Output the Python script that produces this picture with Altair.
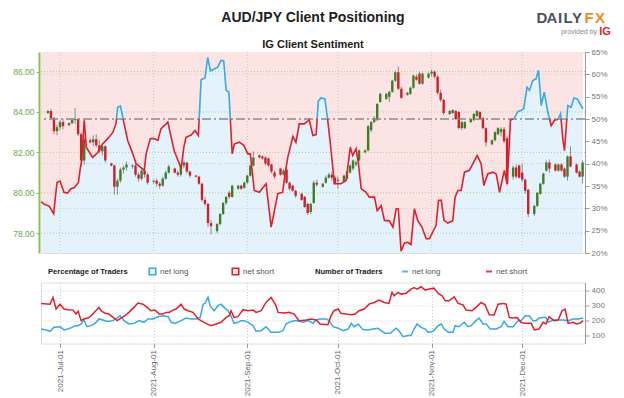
import altair as alt
import pandas as pd

# ---------------- data ----------------
# time positions are day offsets after 2021-07-01 00:00
sent_day = [-6.3,-5.2,-3.6,-2.1,-1.0,0.0,1.3,2.5,3.6,4.7,
            6.1,6.7,7.2,8.0,8.7,9.4,10.8,12.5,14.1,15.8,
            17.5,18.5,19.1,20.0,21.1,22.4,24.1,25.2,26.6,27.9,
            28.5,29.9,31.2,32.4,33.4,34.5,35.7,36.8,37.8,39.5,
            40.1,41.0,41.7,43.4,44.7,45.8,46.7,48.0,48.9,49.8,
            51.1,52.2,53.3,54.2,55.0,55.9,57.0,57.7,59.4,60.8,
            62.2,63.0,64.3,66.0,68.2,69.9,72.1,73.7,74.5,75.4,
            77.1,78.1,79.2,80.9,82.5,83.7,84.8,85.5,86.4,87.7,
            88.6,89.5,90.4,90.8,93.0,94.7,96.1,96.9,98.0,98.8,
            99.7,101.3,102.4,104.1,105.0,106.3,107.4,109.0,110.2,111.3,
            112.0,112.9,114.0,115.1,116.2,117.3,118.4,119.8,121.2,122.3,
            123.4,124.5,125.3,126.2,127.1,128.4,130.0,130.8,131.7,132.8,
            133.9,135.5,136.7,138.1,139.4,140.3,141.6,143.3,144.4,145.5,
            147.1,148.0,148.8,149.1,150.4,151.6,152.6,153.5,154.6,155.4,
            156.5,157.6,158.4,159.3,160.3,161.5,162.6,163.7,164.8,165.7,
            166.5,167.0,168.1,169.2,170.1,171.2,173.1]
sent_pct = [31.5,30.9,30.5,28.8,35.8,36.1,33.6,33.4,34.4,34.6,
            35.8,38.9,40.7,49.7,43.7,42.9,41.4,42.5,44.4,45.6,
            47.0,48.9,52.6,52.9,49.3,45.2,42.2,40.0,39.2,38.5,
            42.2,45.6,45.6,45.2,47.8,48.5,49.3,45.9,42.9,40.0,
            38.9,43.7,45.9,46.4,47.4,46.3,58.8,59.2,63.8,60.8,
            61.2,61.6,63.1,63.0,56.4,56.0,42.2,44.4,44.8,44.1,
            42.2,42.2,34.0,33.6,35.5,25.8,33.3,33.6,37.7,41.4,
            46.1,44.8,48.9,48.9,49.8,46.3,46.5,54.0,54.7,54.5,
            49.9,44.4,38.5,35.5,35.5,36.2,43.7,41.8,43.3,40.0,
            34.4,33.6,32.5,32.5,29.5,30.6,27.3,27.2,25.8,29.9,
            29.9,20.4,22.2,22.4,21.9,29.9,27.3,25.8,23.2,23.2,
            24.7,26.2,31.8,31.8,27.3,26.7,27.2,32.5,34.0,34.0,
            38.1,38.5,40.0,41.8,40.0,35.1,37.7,38.1,37.7,33.6,
            38.5,35.5,45.2,49.7,50.2,51.7,51.9,52.3,57.1,56.4,
            58.6,59.0,60.9,53.0,56.0,51.5,48.5,49.7,49.9,51.2,
            45.2,42.9,53.0,52.6,54.7,54.5,52.3]

long_day = [-6.3,-4.6,-3.3,-2.0,0.0,1.3,2.6,4.0,5.0,6.0,
            7.0,7.9,8.9,10.3,11.6,12.9,14.2,15.9,17.5,19.2,
            19.9,21.2,22.8,24.5,26.2,27.8,29.1,30.8,32.5,34.1,
            35.8,36.8,38.1,40.1,41.7,43.4,45.0,46.4,47.4,48.0,
            49.0,49.7,51.0,52.3,53.3,54.3,55.6,56.6,57.6,58.9,
            59.9,60.9,62.3,63.9,64.9,66.6,68.2,69.9,72.2,73.8,
            74.8,76.5,78.1,80.5,82.1,83.8,84.8,85.8,88.1,89.1,
            90.4,92.1,93.7,95.4,96.4,97.4,98.7,100.3,102.0,103.6,
            105.3,106.3,107.6,109.3,111.3,112.3,113.6,115.2,116.2,117.2,
            118.2,119.5,120.9,121.9,123.5,125.2,126.2,127.2,128.5,130.1,
            130.8,132.1,133.8,135.1,136.1,137.7,138.7,140.1,141.1,142.4,
            144.4,146.0,147.0,148.3,150.0,151.7,152.6,154.0,155.3,156.6,
            157.6,158.6,159.9,160.9,161.6,163.2,164.9,166.6,168.2,169.9,
            171.5,173.2]
long_n = [145,139,130,156,160,139,145,156,167,167,
          178,204,160,167,182,211,204,195,200,221,
          232,200,178,182,200,189,211,211,226,232,
          226,189,182,200,217,211,211,221,308,313,
          352,298,265,298,308,287,265,232,182,189,
          200,200,189,167,130,134,160,123,123,134,
          178,195,200,189,200,182,204,211,211,200,
          160,150,134,145,182,160,178,141,139,145,
          150,134,117,117,150,130,95,102,102,145,
          178,156,145,123,130,167,178,145,123,123,
          167,160,189,160,167,200,217,178,178,145,
          145,160,195,160,160,200,200,232,232,200,
          200,217,221,221,189,204,204,204,200,211,
          211,217]

short_day = [-6.3,-3.3,-2.3,-1.3,0.0,1.3,2.6,4.3,5.3,6.0,
             7.0,7.9,9.3,10.3,11.3,12.9,13.6,14.9,16.2,17.9,
             18.9,20.2,21.5,22.8,24.5,25.8,27.5,29.1,30.1,31.5,
             32.8,34.1,35.1,36.1,37.4,38.4,40.1,41.1,42.4,44.0,
             45.7,46.7,48.3,50.0,51.7,53.3,55.0,56.0,56.6,57.6,
             58.9,60.6,62.3,63.9,64.9,66.6,68.2,69.9,71.5,72.2,
             74.2,75.8,77.5,79.1,81.5,83.1,84.8,86.1,88.7,89.7,
             90.7,92.1,93.0,94.7,96.4,97.7,99.0,100.7,102.3,104.0,
             105.6,107.3,108.9,109.9,110.6,111.9,112.9,114.6,116.2,117.2,
             118.2,119.5,120.9,122.2,123.8,125.2,126.5,127.5,128.8,130.5,
             131.8,133.4,134.4,136.4,137.7,139.4,140.7,142.1,143.7,145.0,
             146.7,147.7,148.7,149.7,151.3,152.6,153.6,156.0,157.0,158.6,
             159.9,160.9,161.9,163.6,164.9,166.2,167.2,168.2,169.9,170.9,
             172.2,173.2]
short_n = [313,308,352,276,308,276,272,269,243,261,
           200,211,217,232,254,287,265,248,243,217,
           200,217,232,254,287,315,308,282,265,269,
           243,243,254,254,269,276,308,276,265,254,
           211,200,182,167,178,189,221,232,265,221,
           226,272,265,269,254,265,319,352,298,254,
           250,254,243,200,204,211,204,178,173,232,
           265,276,248,243,239,243,265,276,308,319,
           335,319,313,385,363,385,374,380,407,417,
           407,422,400,407,413,378,363,330,330,356,
           313,304,269,265,287,319,304,239,237,308,
           313,308,221,217,221,189,182,182,139,145,
           189,178,226,200,204,265,276,182,189,178,
           184,200]

# daily AUD/JPY candles, Sunday..Friday, 2021-06-27 .. 2021-12-21 (one row per week)
candle_open = [
    83.95,84.05,83.7,83.05,83.25,83.5,
    83.35,83.45,83.6,83.65,82.9,81.6,
    82.6,82.5,82.65,82.35,82.05,82.3,
    81.45,81.35,80.3,80.6,81.15,81.25,
    81.3,81.35,80.9,80.7,81.1,80.9,
    80.55,80.6,80.45,80.35,80.7,81.0,
    81.2,81.0,80.9,81.35,81.5,81.05,
    80.85,80.8,80.45,79.65,79.45,78.5,
    78.1,78.45,78.95,79.5,80.0,79.8,
    80.2,80.35,80.25,80.5,80.85,81.35,
    81.85,81.8,81.75,81.7,81.4,81.0,
    81.2,80.9,81.15,80.5,80.35,80.1,
    79.95,79.8,79.45,79.05,79.5,80.5,
    80.3,80.5,80.75,80.9,80.75,80.65,
    80.55,80.7,81.0,81.2,81.4,81.6,
    82.0,82.1,83.1,83.5,83.6,84.5,
    84.65,84.75,85.0,85.55,85.97,85.15,
    84.85,84.9,85.2,85.75,85.9,85.4,
    85.7,85.9,86.0,85.75,84.95,84.6,
    83.9,83.95,84.05,84.0,83.2,83.2,
    83.5,83.6,83.8,84.0,83.7,83.2,
    82.4,82.6,82.9,83.0,83.15,82.7,
    80.8,81.25,81.35,81.0,80.65,80.15,
    78.95,79.35,79.95,80.45,81.1,81.5,
    81.4,81.1,81.4,81.2,80.8,81.8,
    81.4,81.05,80.8]
candle_high = [
    84.1,84.15,83.75,83.35,83.6,83.65,
    83.5,83.7,84.2,83.7,83.0,82.8,
    82.7,82.85,82.9,82.6,82.45,82.35,
    81.5,81.4,80.7,81.25,81.35,81.55,
    81.4,81.45,81.0,81.2,81.2,81.0,
    80.65,80.7,80.55,80.8,81.1,81.4,
    81.25,81.1,81.4,81.6,81.5,81.1,
    80.9,80.85,80.5,79.8,79.5,78.65,
    78.5,79.0,79.55,79.85,80.1,80.4,
    80.4,80.4,80.55,80.9,81.4,82.05,
    81.9,81.85,81.8,81.75,81.45,81.1,
    81.25,81.2,81.3,80.55,80.4,80.15,
    80.0,79.85,79.5,79.5,80.6,80.65,
    80.5,80.85,81.0,81.05,80.85,80.8,
    80.9,81.1,81.4,81.65,81.6,82.15,
    82.15,83.35,83.55,83.8,84.45,84.95,
    84.95,85.05,85.6,86.05,86.25,85.25,
    85.0,85.25,85.85,85.85,86.0,85.95,
    85.95,86.1,86.05,85.8,85.1,84.65,
    84.1,84.15,84.1,84.05,83.55,83.55,
    83.7,83.95,84.1,84.05,83.75,83.25,
    82.65,83.05,83.25,83.25,83.25,82.8,
    81.35,81.4,81.4,81.45,80.7,80.2,
    79.4,80.05,80.5,81.0,81.6,81.65,
    81.45,81.45,81.45,81.25,81.85,82.3,
    81.45,81.1,81.6]
candle_low = [
    83.9,83.6,82.9,82.85,83.1,83.15,
    83.3,83.4,83.4,82.8,81.3,81.4,
    82.45,82.3,82.25,81.95,81.85,81.5,
    81.3,79.9,79.9,80.5,80.95,81.1,
    81.2,80.8,80.55,80.6,80.75,80.4,
    80.45,80.3,80.2,80.3,80.65,80.95,
    80.95,80.8,80.8,81.2,80.95,80.75,
    80.75,80.4,79.55,79.35,78.3,77.95,
    78.0,78.4,78.9,79.4,79.7,79.75,
    80.15,80.15,80.2,80.45,80.8,81.3,
    81.7,81.65,81.35,81.3,80.95,80.7,
    80.85,80.85,80.45,80.1,80.05,79.75,
    79.6,79.25,78.9,78.95,79.45,80.3,
    80.25,80.45,80.7,80.6,80.4,80.2,
    80.5,80.65,80.95,81.1,81.3,81.55,
    81.95,82.05,83.0,83.45,83.55,84.45,
    84.6,84.5,84.95,85.5,85.1,84.65,
    84.8,84.85,85.15,85.55,85.35,85.35,
    85.65,85.75,85.65,84.85,84.5,83.85,
    83.85,83.9,83.6,83.15,83.1,83.15,
    83.45,83.55,83.75,83.6,83.15,82.3,
    82.35,82.55,82.85,82.8,82.45,80.35,
    80.65,80.7,80.7,80.55,79.95,78.8,
    78.85,79.3,79.9,80.4,81.05,81.0,
    81.05,81.05,81.05,80.75,80.6,81.25,
    80.95,80.75,80.45]
candle_close = [
    84.05,83.7,83.05,83.25,83.5,83.3,
    83.45,83.6,83.65,82.9,81.6,82.65,
    82.5,82.65,82.35,82.05,82.3,81.6,
    81.35,80.3,80.6,81.15,81.25,81.4,
    81.35,80.9,80.7,81.1,80.9,80.5,
    80.6,80.45,80.35,80.7,81.0,81.3,
    81.0,80.9,81.35,81.5,81.05,80.85,
    80.8,80.45,79.65,79.45,78.5,78.35,
    78.45,78.95,79.5,79.8,79.8,80.35,
    80.35,80.2,80.5,80.85,81.35,81.75,
    81.75,81.7,81.45,81.35,81.05,80.8,
    80.9,81.1,80.5,80.2,80.1,79.85,
    79.65,79.3,79.0,79.45,80.5,80.4,
    80.45,80.75,80.9,80.75,80.45,80.6,
    80.85,81.05,81.35,81.6,81.5,82.1,
    82.1,83.3,83.5,83.7,84.4,84.9,
    84.9,85.0,85.55,85.97,85.15,84.7,
    84.95,85.2,85.8,85.6,85.4,85.9,
    85.9,86.0,85.75,84.95,84.6,83.95,
    84.05,84.1,83.65,83.2,83.5,83.5,
    83.65,83.9,84.05,83.65,83.2,82.5,
    82.6,83.0,83.2,83.15,82.55,80.45,
    81.25,80.8,80.75,80.65,80.1,78.95,
    79.35,80.0,80.45,80.95,81.5,81.2,
    81.1,81.4,81.1,80.8,81.8,81.3,
    81.0,80.8,81.5]

price_ticks = [78, 80, 82, 84, 86]
pct_ticks = [20, 25, 30, 35, 40, 45, 50, 55, 60, 65]
pct_grid = [30, 40, 60]
trader_ticks = [100, 200, 300, 400]
month_starts = ["2021-07-01", "2021-08-01", "2021-09-01", "2021-10-01", "2021-11-01", "2021-12-01"]

# ---------------- tables ----------------
BASE = pd.Timestamp("2021-07-01")


def at(days):
    return BASE + pd.to_timedelta(pd.Series(days, dtype=float), unit="D")


candle_dates = [d for d in pd.date_range("2021-06-27", "2021-12-21", freq="D") if d.weekday() != 5]
candles = pd.DataFrame({"t": candle_dates, "o": candle_open, "h": candle_high,
                        "l": candle_low, "c": candle_close})

sent_raw = pd.DataFrame({"t": at(sent_day), "pct": sent_pct})

# split the sentiment line where it crosses 50 % (blue above, red below)
rows = []
seg = 0
side = "long" if sent_pct[0] > 50 else "short"
prev = None
for d, p in zip(sent_day, sent_pct):
    if prev is not None:
        d0, p0 = prev
        if (p0 - 50) * (p - 50) < 0:
            dc = d0 + (50 - p0) / (p - p0) * (d - d0)
            rows.append((dc, 50.0, seg, side))
            seg += 1
            side = "long" if p > 50 else "short"
            rows.append((dc, 50.0, seg, side))
    rows.append((d, p, seg, side))
    prev = (d, p)
seg_df = pd.DataFrame(rows, columns=["day", "pct", "seg", "side"])
seg_df["t"] = at(seg_df["day"].tolist())
seg_df = seg_df.drop(columns=["day"])

traders = pd.concat([
    pd.DataFrame({"t": at(long_day), "n": long_n, "s": "long"}),
    pd.DataFrame({"t": at(short_day), "n": short_n, "s": "short"}),
])
months = pd.DataFrame({"t": pd.to_datetime(month_starts)})

# ---------------- style ----------------
SANS = "Liberation Sans, Arial, Helvetica, sans-serif"
RED = "#e2202c"
BLUE = "#36a9e6"
GREEN = "#3b7f26"
CRED = "#cf1f2b"
WICK = "#8c8c8c"
PINK_FILL = "#fce4e5"
BLUE_FILL = "#e4f2fb"
GGRID = "#b7cf8c"
W, H, H2 = 544, 201, 61

xs = alt.Scale(domain=[alt.DateTime(year=2021, month=6, date=24, hours=17),
                       alt.DateTime(year=2021, month=12, date=21, hours=19)])
price_scale = alt.Scale(domain=[77.02, 86.97], nice=False, zero=False)
pct_scale = alt.Scale(domain=[20, 65], nice=False, zero=False)
tr_scale = alt.Scale(domain=[50, 450], nice=False, zero=False)
X = alt.X("t:T", scale=xs, axis=None, title=None)


def label(text, x, y, size=10, weight="normal", color="#333333", font=SANS, align="left"):
    return alt.Chart(pd.DataFrame({"s": [text]})).mark_text(
        align=align, baseline="middle", fontSize=size, fontWeight=weight, color=color, font=font
    ).encode(x=alt.value(x), y=alt.value(y), text="s:N")


# ---------------- main panel ----------------
pct_axis = alt.Axis(orient="right", values=pct_ticks, labelExpr="datum.value + '%'", grid=False,
                    title=None, tickSize=4, tickColor="#9a9a9a", domainColor="#9a9a9a",
                    labelColor="#777777", labelFont=SANS, labelFontSize=8, labelPadding=2)
area_pink = alt.Chart(sent_raw).transform_calculate(hi="65").mark_area(color=PINK_FILL).encode(
    x=X, y=alt.Y("pct:Q", scale=pct_scale, axis=pct_axis, title=None), y2=alt.Y2("hi:Q"))
area_blue = alt.Chart(sent_raw).transform_calculate(lo="20").mark_area(color=BLUE_FILL).encode(
    x=X, y=alt.Y("pct:Q", scale=pct_scale, axis=pct_axis, title=None), y2=alt.Y2("lo:Q"))
pct_rules = alt.Chart(pd.DataFrame({"v": pct_grid})).mark_rule(
    color="#cccccc", strokeDash=[1, 2]).encode(y=alt.Y("v:Q", scale=pct_scale, axis=pct_axis, title=None))
bg = alt.layer(area_pink, area_blue, pct_rules)

price_axis = alt.Axis(orient="left", values=price_ticks, format=".2f", grid=False, title=None,
                      labelColor="#6aa84f", domainColor="#8cc152", domainWidth=2,
                      tickColor="#8cc152", tickSize=3, offset=2, labelPadding=2,
                      labelFont=SANS, labelFontSize=8.5)
price_rules = alt.Chart(pd.DataFrame({"v": price_ticks})).mark_rule(
    color=GGRID, strokeDash=[1, 2]).encode(y=alt.Y("v:Q", scale=price_scale, axis=price_axis, title=None))
vrules = alt.Chart(months).mark_rule(color="#c8c8c8", strokeDash=[1, 2]).encode(x=X)
wicks = alt.Chart(candles).mark_rule(color=WICK, strokeWidth=1).encode(
    x=X, y=alt.Y("l:Q", scale=price_scale, axis=price_axis, title=None), y2="h:Q")
bodies = alt.Chart(candles).mark_rule(strokeWidth=2.4).encode(
    x=X, y=alt.Y("o:Q", scale=price_scale, axis=price_axis, title=None), y2="c:Q",
    color=alt.condition("datum.c >= datum.o", alt.value(GREEN), alt.value(CRED)))
price = alt.layer(price_rules, vrules, wicks, bodies)

mid = alt.Chart(pd.DataFrame({"v": [50]})).mark_rule(
    color="#8a8a8a", strokeDash=[9, 3, 2, 3], strokeWidth=1.3).encode(
    y=alt.Y("v:Q", scale=pct_scale, axis=None))
sline = alt.Chart(seg_df).mark_line(strokeWidth=1.6).encode(
    x=X, y=alt.Y("pct:Q", scale=pct_scale, axis=None), detail="seg:N",
    color=alt.Color("side:N", scale=alt.Scale(domain=["long", "short"], range=[BLUE, RED]), legend=None))
lines = alt.layer(mid, sline)

logo_letters = [("D", 501, "#4a5260"), ("A", 511, "#4a5260"), ("I", 519, "#4a5260"),
                ("L", 527, "#4a5260"), ("Y", 536, "#4a5260"), ("F", 548, "#f28c1e"),
                ("X", 559, "#f28c1e")]
heads = [
    label("AUD/JPY Client Positioning", 272, -34.5, size=14, weight="bold", color="#222222", align="center"),
    label("IG Client Sentiment", 272, -7.5, size=11, weight="bold", color="#222222", align="center"),
    label("provided by", 538, -20.5, size=7, color="#8a8a8a", align="center"),
    label("IG", 564, -20.5, size=11, weight="bold", color="#e2231a", align="center"),
] + [label(ch, x, -34.5, size=15, weight="bold", color=col, align="center") for ch, x, col in logo_letters]

main = alt.layer(bg, price, lines, *heads).resolve_scale(y="independent").properties(width=W, height=H)

# ---------------- traders panel ----------------
month_dt = [alt.DateTime(year=2021, month=m, date=1) for m in range(7, 13)]
bx = alt.X("t:T", scale=xs, title=None, axis=alt.Axis(
    values=month_dt, format="%Y-%b-%d", labelAngle=270, grid=True, gridDash=[1, 2],
    gridColor="#cccccc", domain=False, tickColor="#9a9a9a", tickSize=4, labelPadding=2,
    labelColor="#666666", labelFont=SANS, labelFontSize=8))
by = alt.Y("n:Q", scale=tr_scale, title=None, axis=alt.Axis(
    orient="right", values=trader_ticks, grid=True, gridDash=[1, 2], gridColor="#cccccc",
    tickSize=4, tickColor="#9a9a9a", domainColor="#9a9a9a", labelColor="#777777",
    labelFont=SANS, labelFontSize=8, labelPadding=2))
tlines = alt.Chart(traders).mark_line(strokeWidth=1.5).encode(
    x=bx, y=by, detail="s:N",
    color=alt.Color("s:N", scale=alt.Scale(domain=["long", "short"], range=["#4db8ef", "#e5404e"]),
                    legend=None))

sq_blue = alt.Chart(pd.DataFrame({"a": [0]})).mark_square(
    size=42, fill="#eaf5fd", stroke="#36a9e6", strokeWidth=1.6, opacity=1).encode(
    x=alt.value(111.5), y=alt.value(-11))
sq_red = alt.Chart(pd.DataFrame({"a": [0]})).mark_square(
    size=42, fill="#fbeaeb", stroke="#e2202c", strokeWidth=1.6, opacity=1).encode(
    x=alt.value(194.5), y=alt.value(-11))
dash_blue = alt.Chart(pd.DataFrame({"a": [0]})).mark_rule(color="#4db8ef", strokeWidth=2).encode(
    x=alt.value(361), x2=alt.value(367), y=alt.value(-11))
dash_red = alt.Chart(pd.DataFrame({"a": [0]})).mark_rule(color="#e5404e", strokeWidth=2).encode(
    x=alt.value(445), x2=alt.value(451), y=alt.value(-11))
legend_items = [
    label("Percentage of Traders", 7, -11, size=7.6, weight="bold", color="#222222"),
    label("net long", 119, -11, size=8, color="#555555"),
    label("net short", 202, -11, size=8, color="#555555"),
    label("Number of Traders", 274, -11, size=7.6, weight="bold", color="#222222"),
    label("net long", 371, -11, size=8, color="#555555"),
    label("net short", 455, -11, size=8, color="#555555"),
    sq_blue, sq_red, dash_blue, dash_red,
]
bottom = alt.layer(tlines, *legend_items).properties(width=W, height=H2)

chart = alt.vconcat(main, bottom, spacing=29.5, bounds="flush").properties(
    padding={"left": 4, "top": 2, "right": 2, "bottom": 2}
).configure_view(stroke="#cccccc", strokeDash=[1, 2]).configure(font=SANS)

chart.save("out.html", embed_options={"renderer": "svg", "actions": False})
